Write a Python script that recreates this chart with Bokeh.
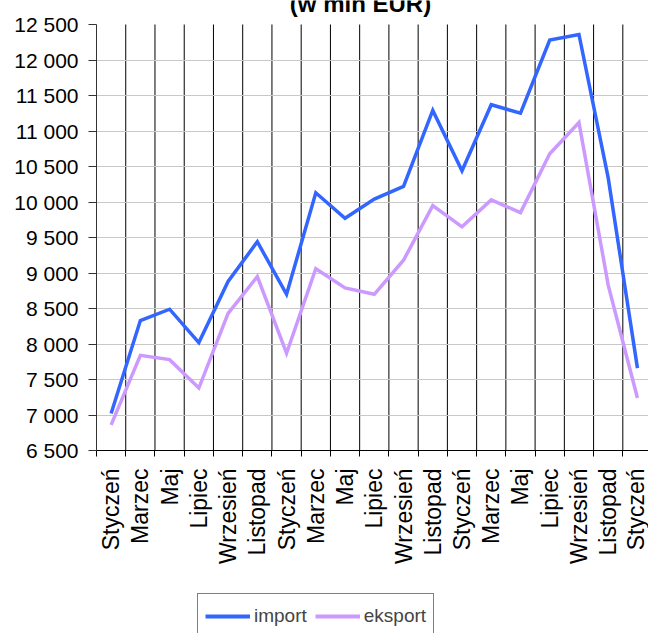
import math
from bokeh.plotting import figure
from bokeh.layouts import column
from bokeh.models import (Range1d, FixedTicker, Legend, LegendItem, Label)
from bokeh.embed import file_html
from bokeh.resources import INLINE

# ---- data ----
months = ["Styczeń", "Marzec", "Maj", "Lipiec", "Wrzesień", "Listopad",
          "Styczeń", "Marzec", "Maj", "Lipiec", "Wrzesień", "Listopad",
          "Styczeń", "Marzec", "Maj", "Lipiec", "Wrzesień", "Listopad",
          "Styczeń"]
import_vals = [7020, 8330, 8490, 8020, 8880, 9440, 8700, 10130, 9770, 10040,
               10220, 11290, 10440, 11370, 11250, 12280, 12360, 10340, 7660]
eksport_vals = [6860, 7840, 7780, 7380, 8430, 8950, 7870, 9060, 8790, 8700,
                9180, 9950, 9650, 10030, 9850, 10680, 11120, 8830, 7240]
y_ticks = [6500, 7000, 7500, 8000, 8500, 9000, 9500, 10000, 10500, 11000,
           11500, 12000, 12500]
y_tick_labels = ["6 500", "7 000", "7 500", "8 000", "8 500", "9 000",
                 "9 500", "10 000", "10 500", "11 000", "11 500", "12 000",
                 "12 500"]
series_names = ["import", "eksport"]
series_colors = ["#3366FF", "#CC99FF"]
title_text = "(w mln EUR)"

FONT = "Liberation Sans"
n = len(months)
xs = [i + 0.5 for i in range(n)]
boundaries = list(range(n))
y_lo, y_hi = y_ticks[0], y_ticks[-1]
# frame reaches the top of the canvas (24 px above the 12 500 line)
y_top = y_hi + (y_hi - y_lo) * 24.0 / 426.0

p = figure(width=648, height=592, output_backend="svg", toolbar_location=None,
           x_range=Range1d(0, 18.878), y_range=Range1d(y_lo, y_top),
           min_border_left=96, min_border_right=0, min_border_top=0,
           min_border_bottom=142)
p.outline_line_color = None
p.background_fill_color = "white"
p.border_fill_color = "white"

# x axis
xa = p.xaxis[0]
xa.ticker = FixedTicker(ticks=xs, minor_ticks=boundaries)
xa.major_label_overrides = {x: m for x, m in zip(xs, months)}
xa.major_label_orientation = math.pi / 2
xa.major_label_text_font = FONT
xa.major_label_text_font_size = "23px"
xa.major_label_text_color = "black"
xa.major_label_standoff = 12
xa.major_tick_in = 0
xa.major_tick_out = 0
xa.minor_tick_in = 0
xa.minor_tick_out = 6
xa.minor_tick_line_color = "black"
xa.axis_line_color = "black"

# y axis
ya = p.yaxis[0]
ya.ticker = FixedTicker(ticks=y_ticks)
ya.bounds = (y_lo, y_hi)
ya.major_label_overrides = {t: l for t, l in zip(y_ticks, y_tick_labels)}
ya.major_label_text_font = FONT
ya.major_label_text_font_size = "21px"
ya.major_label_text_color = "black"
ya.major_label_standoff = 10
ya.major_tick_in = 0
ya.major_tick_out = 8
ya.major_tick_line_color = "#333333"
ya.axis_line_color = "#333333"
ya.minor_tick_line_color = None

# grids
p.xgrid.visible = False
p.ygrid.ticker = FixedTicker(ticks=y_ticks[1:-1])
p.ygrid.grid_line_color = "#c8c8c8"
p.ygrid.grid_line_width = 1
# vertical category separators, from the bottom to the top of the value axis
p.segment(x0=boundaries[1:], y0=y_lo, x1=boundaries[1:], y1=y_hi,
          line_color="black", line_width=1, level="underlay")

p.line(xs, import_vals, line_color=series_colors[0], line_width=3.5,
       line_join="miter")
p.line(xs, eksport_vals, line_color=series_colors[1], line_width=3.5,
       line_join="miter")

title = Label(x=264, y=447, x_units="screen", y_units="screen",
              text=title_text, text_font=FONT, text_font_size="24px",
              text_font_style="bold", text_align="center",
              text_baseline="alphabetic", text_color="black")
p.add_layout(title)

# ---- legend strip ----
p2 = figure(width=648, height=41, output_backend="svg", toolbar_location=None,
            x_range=Range1d(0, 1), y_range=Range1d(0, 1),
            min_border=0)
p2.axis.visible = False
p2.grid.visible = False
p2.outline_line_color = None
p2.background_fill_color = "white"
p2.border_fill_color = "white"
items = []
for name, col, vals in zip(series_names, series_colors,
                           [import_vals, eksport_vals]):
    r = p2.line(xs, vals, line_color=col, line_width=4)
    items.append(LegendItem(label=name, renderers=[r]))

legend = Legend(items=items, orientation="horizontal", location=(101, -6),
                label_text_font=FONT, label_text_font_size="19px",
                label_standoff=4, glyph_width=45, glyph_height=30,
                label_height=30, spacing=8, padding=7, margin=0,
                border_line_color="black", border_line_width=1,
                background_fill_color="white", background_fill_alpha=1)
p2.add_layout(legend, "center")

layout = column(p, p2, spacing=0)
open("out.html", "w").write(file_html(layout, INLINE))
